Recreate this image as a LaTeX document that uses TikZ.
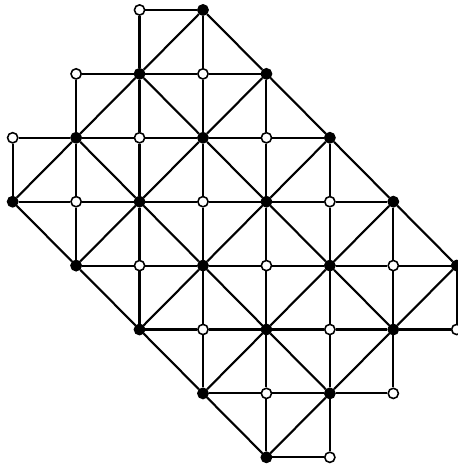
\documentclass[tikz,border=0pt]{standalone}
\begin{document}
\begin{tikzpicture}[x=1cm,y=-1.0074cm,
  edge/.style={line width=0.95pt},
  full/.style={circle,draw,fill=black,inner sep=0pt,minimum size=4.6pt,line width=0.7pt},
  hollow/.style={circle,draw,fill=white,inner sep=0pt,minimum size=4.6pt,line width=0.7pt}
]
  \useasboundingbox (-0.2,-0.156) rectangle (7.02,7.105);
  % black vertices, one diagonal chain per start
  \foreach \c/\r in {3/0,2/1,1/2,0/3}
    \foreach \k in {0,...,4}
      {\pgfmathtruncatemacro\cc{\c+\k}\pgfmathtruncatemacro\rr{\r+\k}
       \node[full] (n\cc\rr) at (\cc,\rr) {};}
  % white vertices
  \foreach \c/\r in {2/0,1/1,0/2}
    \foreach \k in {0,...,5}
      {\pgfmathtruncatemacro\cc{\c+\k}\pgfmathtruncatemacro\rr{\r+\k}
       \node[hollow] (n\cc\rr) at (\cc,\rr) {};}
  % rows and columns
  \foreach \r/\a/\b in {0/2/3,1/1/4,2/0/5,3/0/6,4/1/7,5/2/7,6/3/6,7/4/5}
    {\pgfmathtruncatemacro\e{\b-1}
     \foreach \c in {\a,...,\e}
       {\pgfmathtruncatemacro\d{\c+1}
        \draw[edge] (n\c\r) -- (n\d\r);
        \draw[edge] (n\r\c) -- (n\r\d);}}
  % diagonals between black vertices
  \foreach \c/\r in {3/0,2/1,1/2,0/3}
    \foreach \k in {0,...,3}
      {\pgfmathtruncatemacro\ca{\c+\k}\pgfmathtruncatemacro\ra{\r+\k}
       \pgfmathtruncatemacro\cb{\c+\k+1}\pgfmathtruncatemacro\rb{\r+\k+1}
       \draw[edge] (n\ca\ra) -- (n\cb\rb);}
  \foreach \c/\r in {0/3,1/4,2/5,3/6,4/7}
    \foreach \k in {0,...,2}
      {\pgfmathtruncatemacro\ca{\c+\k}\pgfmathtruncatemacro\ra{\r-\k}
       \pgfmathtruncatemacro\cb{\c+\k+1}\pgfmathtruncatemacro\rb{\r-\k-1}
       \draw[edge] (n\ca\ra) -- (n\cb\rb);}
\end{tikzpicture}
\end{document}
